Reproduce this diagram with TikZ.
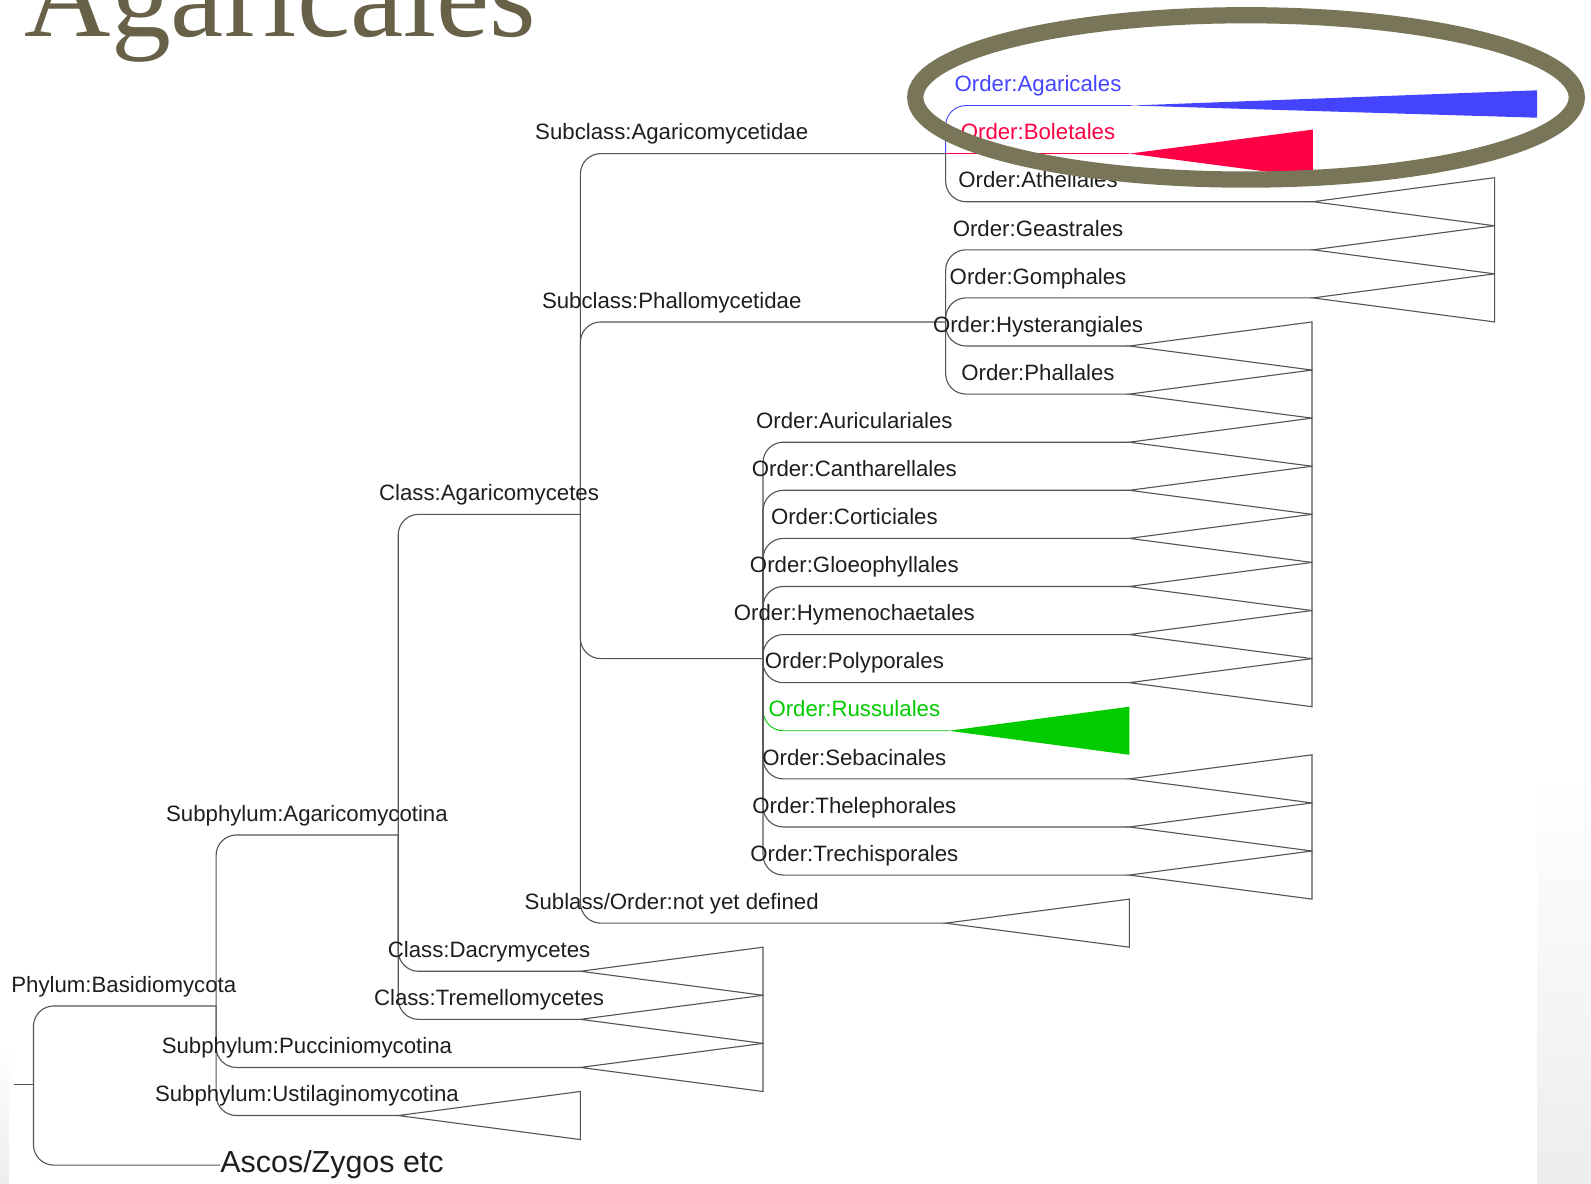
\documentclass[tikz,border=0pt]{standalone}
\usepackage{fontspec}
\setmainfont{Liberation Sans}
\newfontfamily\titlefont{Liberation Serif}
\definecolor{ln}{RGB}{85,85,85}
\definecolor{tx}{RGB}{30,30,30}
\definecolor{agblue}{RGB}{68,68,255}
\definecolor{bored}{RGB}{255,0,68}
\definecolor{rugreen}{RGB}{0,204,0}
\definecolor{olivering}{RGB}{120,117,88}
\definecolor{ttl}{RGB}{104,97,72}
\newcommand{\leaftri}[2]{\draw[tri] (#1) -- ++(#2,-23.7) -- ++(0,47.4) -- cycle;}
\begin{document}
\begin{tikzpicture}[x=1pt,y=-1pt,
  br/.style={draw=ln,line width=1.1pt,rounded corners=20pt},
  tri/.style={draw=ln,line width=1.1pt,line join=miter},
  lab/.style={anchor=base,inner sep=0pt,text=tx,font=\fontsize{21.9}{26}\selectfont},
]
\useasboundingbox (0,0) rectangle (1568,1166);
\clip (0,0) rectangle (1568,1166);
\fill[white] (0,0) rectangle (1568,1166);
% faint slide background edges
\fill[top color=white,bottom color=black!7] (1515,760) rectangle (1568,1166);
\fill[top color=white,bottom color=black!7] (0,1030) rectangle (9,1166);

% title
\node[anchor=base west,inner sep=0pt,text=ttl,font=\titlefont\fontsize{118}{120}\selectfont] (title) at (24,35.7) {Agaricales};

% tree nodes
\coordinate (stub) at (14,1069.1);
\coordinate (root) at (33,1069.1);
\coordinate (basid) at (213,991.4);
\coordinate (agmy) at (392.5,822.9);
\coordinate (pucc) at (572,1052);
\coordinate (ustil) at (392.5,1099.4);
\coordinate (agcl) at (572,506.9);
\coordinate (dacr) at (572,957.2);
\coordinate (trem) at (572,1004.6);
\coordinate (agsub) at (932,151.4);
\coordinate (phsub) at (932,317.3);
\coordinate (ordgrp) at (752,649.1);
\coordinate (nyd) at (932,909.8);
\coordinate (agar) at (1115,104);
\coordinate (bole) at (1113,151.4);
\coordinate (athe) at (1294,198.8);
\coordinate (geas) at (1294,246.2);
\coordinate (gomp) at (1294,293.6);
\coordinate (hyst) at (1113,341);
\coordinate (phal) at (1113,388.4);
\coordinate (auri) at (1113,435.8);
\coordinate (cant) at (1113,483.2);
\coordinate (cort) at (1113,530.6);
\coordinate (gloe) at (1113,578);
\coordinate (hyme) at (1113,625.4);
\coordinate (poly) at (1113,672.8);
\coordinate (russ) at (935,720.2);
\coordinate (seba) at (1113,767.6);
\coordinate (thel) at (1113,815);
\coordinate (trec) at (1113,862.4);

\node[anchor=base west,inner sep=0pt,text=tx,font=\fontsize{30}{36}\selectfont] (ascos) at (217,1156) {Ascos/Zygos etc};

% connectors
\draw[br] (stub) -- (root);
\draw[br] (root) |- (basid);
\draw[br] (root) |- (ascos.west);
\draw[br] (basid) |- (agmy);
\draw[br] (basid) |- (pucc);
\draw[br] (basid) |- (ustil);
\draw[br] (agmy) |- (agcl);
\draw[br] (agmy) |- (dacr);
\draw[br] (agmy) |- (trem);
\draw[br] (agcl) |- (agsub);
\draw[br] (agcl) |- (phsub);
\draw[br] (agcl) |- (ordgrp);
\draw[br] (agcl) |- (nyd);
\draw[br,draw=agblue,line width=0.9pt] (agsub) |- (agar);
\draw[br,draw=bored,line width=0.9pt] (agsub) -- (bole);
\draw[br] (agsub) |- (athe);
\draw[br] (phsub) |- (geas);
\draw[br] (phsub) |- (gomp);
\draw[br] (phsub) |- (hyst);
\draw[br] (phsub) |- (phal);
\draw[br,draw=rugreen,line width=0.9pt] (ordgrp) |- (russ);
\draw[br] (ordgrp) |- (auri);
\draw[br] (ordgrp) |- (cant);
\draw[br] (ordgrp) |- (cort);
\draw[br] (ordgrp) |- (gloe);
\draw[br] (ordgrp) |- (hyme);
\draw[br] (ordgrp) |- (poly);
\draw[br] (ordgrp) |- (seba);
\draw[br] (ordgrp) |- (thel);
\draw[br] (ordgrp) |- (trec);

% collapsed clades
\fill[agblue] (agar) -- (1515,89) -- (1515,116) -- cycle;
\fill[bored] (bole) -- ++(181,-23.7) -- ++(0,47.4) -- cycle;
\fill[rugreen] (russ) -- ++(178,-23.7) -- ++(0,47.4) -- cycle;
\leaftri{athe}{179}
\leaftri{geas}{179}
\leaftri{gomp}{179}
\leaftri{hyst}{180}
\leaftri{phal}{180}
\leaftri{auri}{180}
\leaftri{cant}{180}
\leaftri{cort}{180}
\leaftri{gloe}{180}
\leaftri{hyme}{180}
\leaftri{poly}{180}
\leaftri{seba}{180}
\leaftri{thel}{180}
\leaftri{trec}{180}
\leaftri{nyd}{181}
\leaftri{dacr}{180}
\leaftri{trem}{180}
\leaftri{pucc}{180}
\leaftri{ustil}{179.5}

% labels
\node[lab] (lbasid) at (122,977.8) {Phylum:Basidiomycota};
\node[lab] (lagmy) at (302.5,809.3) {Subphylum:Agaricomycotina};
\node[lab] (lpucc) at (302.5,1038.4) {Subphylum:Pucciniomycotina};
\node[lab] (lustil) at (302.5,1085.8) {Subphylum:Ustilaginomycotina};
\node[lab] (lagcl) at (482,493.3) {Class:Agaricomycetes};
\node[lab] (ldacr) at (482,943.6) {Class:Dacrymycetes};
\node[lab] (ltrem) at (482,991) {Class:Tremellomycetes};
\node[lab] (lagsub) at (662,137.8) {Subclass:Agaricomycetidae};
\node[lab] (lphsub) at (662,303.7) {Subclass:Phallomycetidae};
\node[lab] (lnyd) at (662,896.2) {Sublass/Order:not yet defined};
\node[lab,text=agblue] (lagar) at (1023,90.4) {Order:Agaricales};
\node[lab,text=bored] (lbole) at (1023,137.8) {Order:Boletales};
\node[lab] (lathe) at (1023,185.2) {Order:Atheliales};
\node[lab] (lgeas) at (1023,232.6) {Order:Geastrales};
\node[lab] (lgomp) at (1023,280) {Order:Gomphales};
\node[lab] (lhyst) at (1023,327.4) {Order:Hysterangiales};
\node[lab] (lphal) at (1023,374.8) {Order:Phallales};
\node[lab] (lauri) at (842,422.2) {Order:Auriculariales};
\node[lab] (lcant) at (842,469.6) {Order:Cantharellales};
\node[lab] (lcort) at (842,517) {Order:Corticiales};
\node[lab] (lgloe) at (842,564.4) {Order:Gloeophyllales};
\node[lab] (lhyme) at (842,611.8) {Order:Hymenochaetales};
\node[lab] (lpoly) at (842,659.2) {Order:Polyporales};
\node[lab,text=rugreen] (lruss) at (842,706.6) {Order:Russulales};
\node[lab] (lseba) at (842,754) {Order:Sebacinales};
\node[lab] (lthel) at (842,801.4) {Order:Thelephorales};
\node[lab] (ltrec) at (842,848.8) {Order:Trechisporales};

% highlight ring
\draw[olivering,line width=16pt] (1228,96) ellipse [x radius=326, y radius=81];
\end{tikzpicture}
\end{document}
